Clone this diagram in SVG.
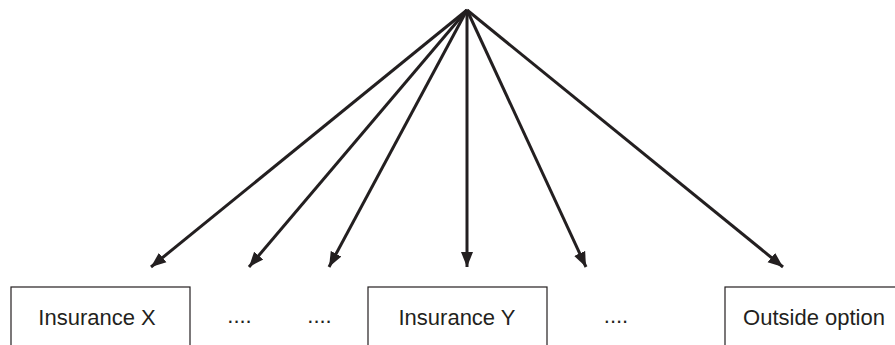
<svg xmlns="http://www.w3.org/2000/svg" width="895" height="345" viewBox="0 0 895 345">
<style>
.box{fill:#fff;stroke:#231f20;stroke-width:1.2}
.lbl{font-family:"Liberation Sans",Arial,sans-serif;font-size:22px;fill:#231f20;text-anchor:middle}
.edge{stroke:#231f20;stroke-width:3;fill:none;marker-end:url(#ah)}
</style>
<defs>
<marker id="ah" markerUnits="userSpaceOnUse" markerWidth="16" markerHeight="14" viewBox="0 0 16 14" refX="15" refY="7" orient="auto">
<path d="M0,1 L15,7 L0,13 Z" fill="#231f20"/>
</marker>
</defs>
<rect width="895" height="345" fill="#fff"/>
<g id="connectors">
<line class="edge" x1="467" y1="10" x2="151" y2="267"/>
<line class="edge" x1="467" y1="10" x2="249" y2="267"/>
<line class="edge" x1="467" y1="10" x2="329" y2="267"/>
<line class="edge" x1="467" y1="10" x2="467" y2="267"/>
<line class="edge" x1="467" y1="10" x2="586" y2="267"/>
<line class="edge" x1="467" y1="10" x2="783" y2="267"/>
</g>
<g id="insuranceX">
<rect class="box" x="11" y="287" width="179" height="70"/>
<text class="lbl" x="97" y="325">Insurance X</text>
</g>
<g id="dots1"><text class="lbl" x="239.5" y="323">....</text></g>
<g id="dots2"><text class="lbl" x="319.5" y="323">....</text></g>
<g id="insuranceY">
<rect class="box" x="368" y="287" width="179" height="70"/>
<text class="lbl" x="457" y="325">Insurance Y</text>
</g>
<g id="dots3"><text class="lbl" x="616" y="323">....</text></g>
<g id="outside">
<rect class="box" x="725" y="287" width="180" height="70"/>
<text class="lbl" x="814" y="325">Outside option</text>
</g>
</svg>
